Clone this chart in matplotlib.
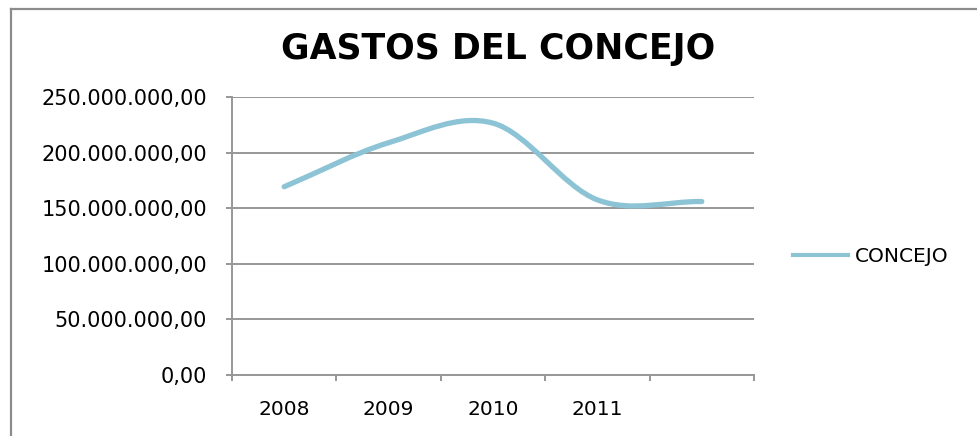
import numpy as np
import matplotlib
matplotlib.use("Agg")
import matplotlib.pyplot as plt
from matplotlib.path import Path
from matplotlib.patches import PathPatch
from matplotlib.lines import Line2D
from matplotlib.ticker import FuncFormatter, FixedLocator

# gastos anuales del concejo (pesos)
years = ["2008", "2009", "2010", "2011", ""]
gastos = [169300000, 208900000, 226500000, 157500000, 156000000]
serie = "CONCEJO"
titulo = "GASTOS DEL CONCEJO"

LINE_COLOR = "#8cc3d5"
GRID_COLOR = "#979797"

W, H = 978, 436
fig = plt.figure(figsize=(W / 100, H / 100), dpi=100)
fig.patch.set_facecolor("white")

# borde del area del grafico
fig.add_artist(Line2D([11 / W, 11 / W], [0, 1 - 9 / H], color="#8c8c8c", lw=1.6))
fig.add_artist(Line2D([11 / W, 1], [1 - 9 / H, 1 - 9 / H], color="#8c8c8c", lw=1.6))

ax = fig.add_axes([232 / W, 1 - 375 / H, (754 - 232) / W, (375 - 97) / H])


def fmt_pesos(v, pos):
    s = f"{v:,.2f}"
    return s.replace(",", "#").replace(".", ",").replace("#", ".")


# curva suavizada (bezier tipo catmull-rom) a traves de los puntos
x = np.arange(len(gastos), dtype=float)
y = np.array(gastos, dtype=float)
n = len(x)
tang = np.zeros(n)
for i in range(n):
    if i == 0:
        tang[i] = y[1] - y[0]
    elif i == n - 1:
        tang[i] = y[-1] - y[-2]
    else:
        tang[i] = (y[i + 1] - y[i - 1]) / 2
verts = [(x[0], y[0])]
codes = [Path.MOVETO]
for i in range(n - 1):
    verts += [(x[i] + 1 / 3, y[i] + tang[i] / 3),
              (x[i + 1] - 1 / 3, y[i + 1] - tang[i + 1] / 3),
              (x[i + 1], y[i + 1])]
    codes += [Path.CURVE4] * 3
ax.add_patch(PathPatch(Path(verts, codes), fill=False, ec=LINE_COLOR,
                       lw=3.8, capstyle="round", joinstyle="round", zorder=3))

ax.set_xlim(-0.5, n - 0.5)
ax.set_ylim(0, 250000000)
ax.yaxis.set_major_locator(FixedLocator(np.arange(0, 250000001, 50000000)))
ax.yaxis.set_major_formatter(FuncFormatter(fmt_pesos))
ax.grid(axis="y", color=GRID_COLOR, lw=1.4)
ax.set_axisbelow(True)

ax.set_xticks(np.arange(-0.5, n, 1.0))
ax.set_xticklabels([])
ax.set_xticks(x, minor=True)
ax.set_xticklabels(years, minor=True)

for s in ["top", "right"]:
    ax.spines[s].set_visible(False)
for s in ["left", "bottom"]:
    ax.spines[s].set_color(GRID_COLOR)
    ax.spines[s].set_linewidth(1.4)

ax.tick_params(axis="y", which="major", length=4, width=1.4, color=GRID_COLOR,
               labelsize=15, pad=14, labelcolor="black")
ax.tick_params(axis="x", which="major", length=4, width=1.4, color=GRID_COLOR)
ax.tick_params(axis="x", which="minor", length=0, labelsize=14.5, pad=18,
               labelcolor="black")

fig.text(498 / W, 1 - 49 / H, titulo, ha="center", va="center",
         fontsize=25, fontweight="bold")

handle = Line2D([], [], color=LINE_COLOR, lw=3)
fig.legend([handle], [serie], loc="center left",
           bbox_to_anchor=(793 / W, 1 - 257 / H), bbox_transform=fig.transFigure,
           frameon=False, fontsize=14.5, handlelength=2.75, handletextpad=0.3,
           borderpad=0, borderaxespad=0)

fig.savefig("out.png", dpi=100, facecolor="white")
